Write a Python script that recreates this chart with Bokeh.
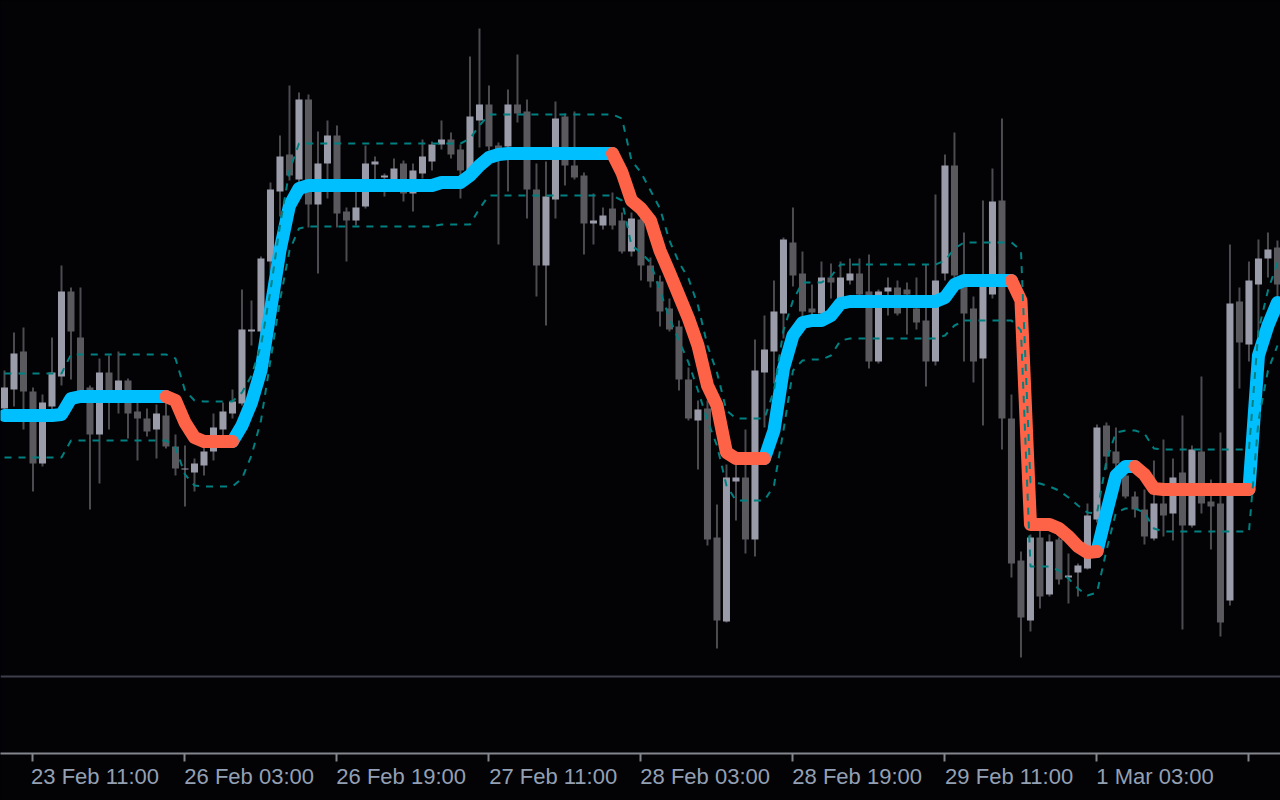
from bokeh.plotting import figure
from bokeh.models import Range1d, FixedTicker, Span, ColumnDataSource
from bokeh.embed import file_html
from bokeh.resources import INLINE

# ---------------- data (hourly bars, arbitrary price points) ----------------
opens = [292,311,349,309,237,294,324,409,363,313,
         266,328,298,320,289,282,271,285,254,231,
         228,235,249,271,287,297,369,369,439,509,
         546,521,601,496,537,565,489,480,494,536,
         523,521,537,507,527,539,556,561,551,530,
         580,596,555,554,596,589,511,435,501,584,
         535,525,477,475,492,480,449,481,435,419,
         392,374,321,280,292,163,79,219,223,161,
         328,349,387,458,427,392,387,423,402,420,
         427,409,339,409,413,411,392,380,339,427,
         535,415,392,342,406,500,282,140,80,163,
         106,161,123,128,132,181,275,249,225,204,
         191,162,197,187,228,175,249,199,197,100,
         399,356,416,442,453]
highs = [330,368,373,313,306,363,435,413,413,315,
         342,345,349,322,298,292,296,298,266,255,
         242,255,287,298,311,411,400,444,518,565,
         615,608,606,569,580,575,493,509,555,544,
         527,542,540,537,561,559,580,568,556,644,
         672,615,558,611,646,601,537,539,599,587,
         589,528,507,493,508,488,488,484,443,425,
         402,380,333,300,300,196,236,236,271,361,
         385,420,463,493,449,416,439,437,439,442,
         442,446,411,423,420,418,423,436,506,546,
         568,468,404,500,532,582,306,149,166,170,
         166,163,147,137,197,276,278,273,231,209,
         211,240,261,242,285,255,324,221,268,456,
         413,439,461,468,460]
lows = [285,294,271,209,234,290,315,321,305,191,
        217,271,287,262,240,264,242,252,225,194,
        209,225,240,262,282,295,355,355,427,484,
        520,515,473,427,502,473,439,475,492,519,
        504,518,499,489,522,530,551,542,502,525,
        553,550,456,509,578,482,404,375,482,515,
        521,446,456,471,471,447,444,420,413,374,
        369,310,280,231,155,52,78,180,147,144,
        273,317,362,414,384,384,384,402,400,416,
        400,332,337,385,385,366,371,314,335,420,
        420,339,318,275,402,251,123,43,69,92,
        104,116,97,104,131,178,231,230,202,183,
        156,160,164,160,71,173,187,151,64,95,
        312,339,366,423,400]
closes = [313,347,309,237,298,328,409,369,309,266,
          328,298,320,287,282,269,287,254,232,232,
          237,249,273,289,299,371,371,442,511,544,
          525,601,496,537,565,487,480,493,537,539,
          525,532,507,530,544,556,561,546,530,584,
          596,554,551,596,587,511,435,504,582,535,
          523,477,480,485,475,449,482,435,419,389,
          371,321,282,291,161,80,223,223,161,330,
          351,389,461,425,389,388,423,418,423,427,
          406,339,409,413,387,406,378,339,420,535,
          425,387,339,414,499,282,137,83,163,104,
          159,121,125,135,185,273,244,237,204,191,
          164,197,185,223,175,251,197,194,78,397,
          358,420,442,451,416]

trend_line = [285,285,285,285,285,285,286,302,304,304,
              304,304,304,304,304,304,304,304,300,278,
              263,259,259,259,259,275,298,330,390,450,
              495,512,515,515,515,515,515,515,515,515,
              515,515,515,515,515,515,518,518,518,525,
              535,543,546,547,547,547,547,547,547,547,
              547,547,547,547,547,528,500,492,480,450,
              428,405,382,355,315,295,248,242,242,242,
              242,270,332,365,378,380,380,385,397,399,
              399,399,399,399,399,399,399,399,399,403,
              416,420,420,420,420,420,420,400,176,176,
              176,172,164,154,148,149,188,225,234,234,
              226,212,211,211,211,211,211,211,211,211,
              211,211,345,375,398]
trend_dir = ([1] * 17 + [-1] * 7 + [1] * 40 + [-1] * 16 + [1] * 26 +
             [-1] * 9 + [1] * 4 + [-1] * 12 + [1] * 4)

upper_band = [327,327,327,327,327,327,327,346,346,346,
              346,346,346,346,346,346,346,346,342,310,
              300,299,299,299,299,308,325,355,410,475,
              530,557,557,557,557,557,557,557,557,557,
              557,557,557,557,557,557,557,557,557,562,
              575,586,586,586,586,586,586,586,586,586,
              586,586,586,586,586,582,540,528,510,492,
              460,438,422,395,355,328,290,282,282,282,
              282,310,370,400,418,418,418,424,436,436,
              436,436,436,436,436,436,436,436,436,440,
              452,458,458,458,458,458,458,450,218,217,
              214,210,203,195,188,187,240,268,270,270,
              267,252,251,251,251,251,251,251,251,251,
              251,251,370,410,438]
lower_band = [243,243,243,243,243,243,243,260,260,260,
              260,260,260,260,260,260,260,260,253,226,
              215,214,214,214,214,222,245,280,340,400,
              450,472,474,474,474,474,474,474,474,474,
              474,474,474,474,474,474,476,476,476,476,
              492,505,505,505,505,505,505,505,505,505,
              505,505,505,505,505,500,455,448,438,410,
              382,360,338,310,280,255,215,200,200,200,
              200,215,270,330,340,341,341,345,360,362,
              362,362,362,362,362,362,362,362,362,365,
              375,380,380,380,380,380,380,370,134,134,
              134,130,122,112,105,108,150,188,192,192,
              188,172,169,169,169,169,169,169,169,169,
              169,169,280,330,355]

tick_bars = [3, 19, 35, 51, 67, 83, 99, 115, 131]
tick_labels = ["23 Feb 11:00", "26 Feb 03:00", "26 Feb 19:00", "27 Feb 11:00",
               "28 Feb 03:00", "28 Feb 19:00", "29 Feb 11:00", "1 Mar 03:00",
               "1 Mar 19:00"]
separator_level = 24

# ---------------- styles / layout ----------------
W, H = 1280, 800
X_START, X_END = -0.42, 134.32
BG = "#030306"
BULL = "#9a9caa"
BEAR = "#59595e"
WICK = "#4b4b50"
UP = "#00bfff"
DOWN = "#ff6347"
BAND = "#008080"
AXIS = "#84868e"
LABEL = "#93a0b4"
FONT = "Liberation Sans"
FONT_PX = 22

# Liberation Sans advance widths (em). MetaTrader draws each time label starting
# at its tick; Bokeh centres labels, so each label is padded on the left with
# no-break spaces of the label's own width.
CHAR_EM = {" ": 0.278, ":": 0.278, "F": 0.611, "e": 0.556, "b": 0.556,
           "M": 0.833, "a": 0.556, "r": 0.333}
NBSP_EM = 0.278
PX_PER_BAR = W / (X_END - X_START)


def left_aligned(bar, label):
    w = sum(CHAR_EM.get(ch, 0.556) for ch in label) * FONT_PX
    nb = NBSP_EM * FONT_PX
    tick_px = (bar - X_START) * PX_PER_BAR
    n = round(w / nb)
    half = (n * nb + w) / 2
    if tick_px - half < 0:
        # Bokeh keeps the label box inside the canvas (box starts at x=0)
        n = max(0, round((tick_px - 1) / nb))
    elif tick_px + half > W:
        # this label runs off the right edge of the window
        return ""
    return "\u00a0" * n + label


n = len(opens)
xs = list(range(n))
nan = float("nan")

candles = ColumnDataSource(dict(
    x=xs, high=highs, low=lows,
    top=[max(o, c) for o, c in zip(opens, closes)],
    bottom=[min(o, c) for o, c in zip(opens, closes)],
    color=[BULL if c >= o else BEAR for o, c in zip(opens, closes)],
))

up_y, dn_y = [], []
for i in range(n):
    d = trend_dir[i]
    prev = trend_dir[i - 1] if i > 0 else d
    up_y.append(trend_line[i] if (d == 1 or prev == 1) else nan)
    dn_y.append(trend_line[i] if (d == -1 or prev == -1) else nan)

p = figure(width=W, height=H, output_backend="svg", toolbar_location=None,
           x_range=Range1d(X_START, X_END), y_range=Range1d(-53, 700),
           y_axis_location=None,
           min_border_left=0, min_border_right=0, min_border_top=0, min_border_bottom=47,
           background_fill_color=BG, border_fill_color=BG, outline_line_color=None)
p.grid.visible = False

p.add_layout(Span(location=separator_level, dimension="width",
                  line_color="#3c3f4b", line_width=2))

p.segment(x0="x", y0="low", x1="x", y1="high", source=candles,
          line_color=WICK, line_width=2)
p.vbar(x="x", width=0.74, top="top", bottom="bottom", source=candles,
       fill_color="color", line_color=None)

p.line(xs, up_y, line_color=UP, line_width=13, line_join="round", line_cap="round")
p.line(xs, dn_y, line_color=DOWN, line_width=13, line_join="round", line_cap="round")

p.line(xs, upper_band, line_color=BAND, line_width=2, line_dash="7 7")
p.line(xs, lower_band, line_color=BAND, line_width=2, line_dash="7 7")

ax = p.xaxis[0]
ax.ticker = FixedTicker(ticks=tick_bars, minor_ticks=[])
ax.major_label_overrides = {b: left_aligned(b, t) for b, t in zip(tick_bars, tick_labels)}
ax.axis_line_color = AXIS
ax.axis_line_width = 2
ax.major_tick_line_color = AXIS
ax.major_tick_line_width = 2
ax.major_tick_out = 8
ax.major_tick_in = 0
ax.minor_tick_out = 0
ax.minor_tick_in = 0
ax.major_label_standoff = 2
ax.major_label_text_font = FONT
ax.major_label_text_font_size = "%dpx" % FONT_PX
ax.major_label_text_color = LABEL

html = file_html(p, INLINE, title="chart")
html = html.replace("<head>", "<head><style>html,body{margin:0;padding:0;background:%s;overflow:hidden}</style>" % BG, 1)
open("out.html", "w").write(html)
